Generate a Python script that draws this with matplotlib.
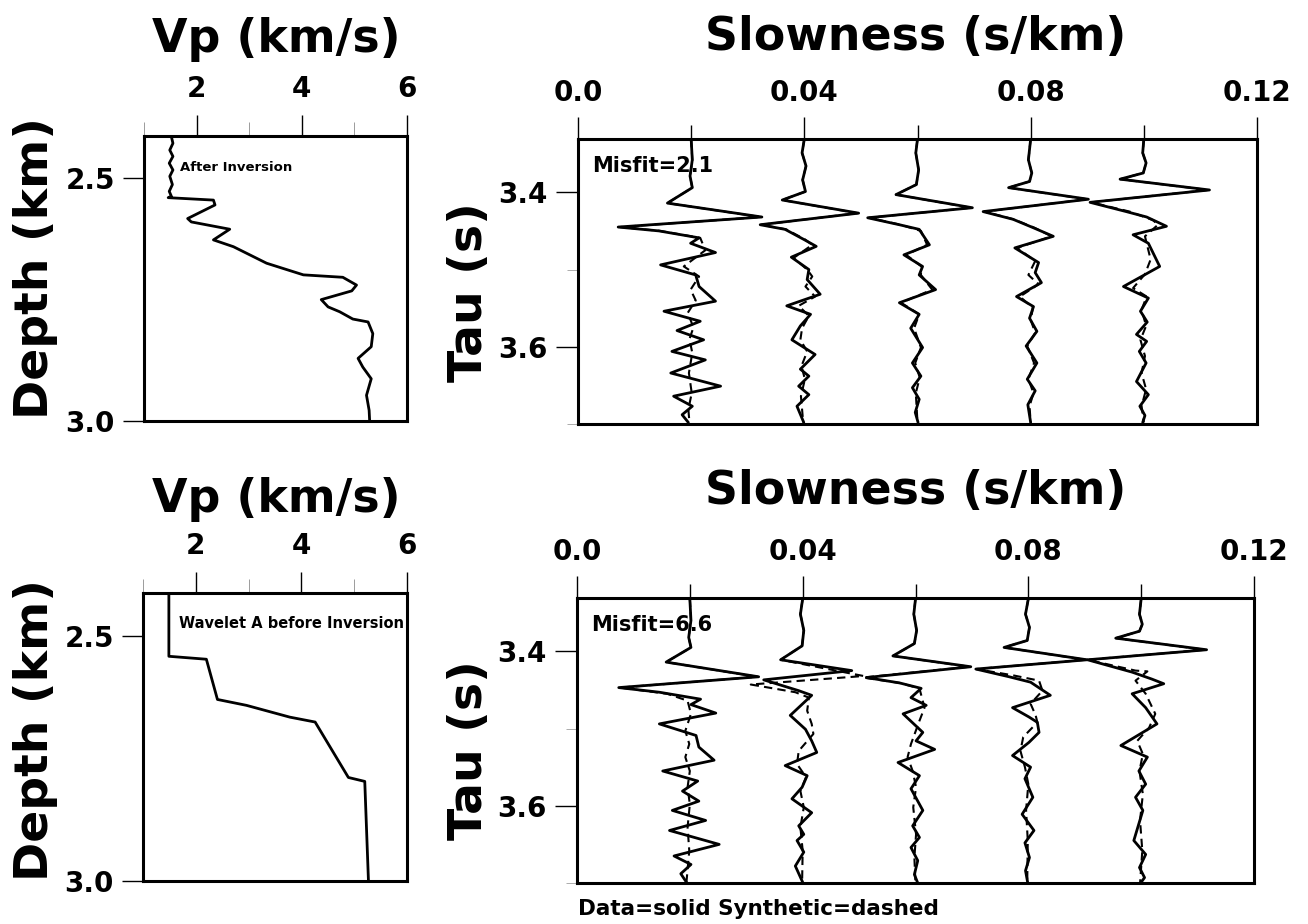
import matplotlib
matplotlib.use("Agg")
import matplotlib.pyplot as plt

W, H = 1308, 924

# ---------------------------------------------------------------------------
# Velocity profiles (Vp in km/s vs depth in km)
# ---------------------------------------------------------------------------
vp_after = [1.52, 1.55, 1.49, 1.55, 1.48, 1.55, 1.49, 1.54, 1.48, 1.52, 1.46,
            2.32, 2.35, 1.83, 1.90, 2.63, 2.32, 2.70, 3.33, 3.65, 4.03, 4.78,
            5.04, 4.95, 4.37, 4.50, 4.72, 4.97, 5.26, 5.35, 5.32, 5.07, 5.16,
            5.32, 5.23, 5.28, 5.29]
depth_after = [2.414, 2.428, 2.442, 2.455, 2.469, 2.483, 2.496, 2.513, 2.527,
               2.537, 2.540, 2.545, 2.555, 2.583, 2.590, 2.605, 2.627, 2.641,
               2.675, 2.686, 2.699, 2.704, 2.720, 2.732, 2.750, 2.765, 2.775,
               2.790, 2.796, 2.820, 2.847, 2.871, 2.889, 2.913, 2.947, 2.978,
               3.0]

vp_before = [1.49, 1.49, 2.20, 2.41, 2.96, 3.78, 4.26, 4.89, 5.20, 5.27]
depth_before = [2.413, 2.542, 2.548, 2.630, 2.642, 2.666, 2.676, 2.789, 2.797,
                3.0]

# ---------------------------------------------------------------------------
# Tau-p traces: slowness of each trace, and (tau [s], offset [1e-3 s/km])
# ---------------------------------------------------------------------------
trace_p = [0.02, 0.04, 0.06, 0.08, 0.10]

top_data = [
    [(3.331, 0), (3.358, 0.2), (3.379, -0.2), (3.394, 0.2), (3.414, -4.2),
     (3.432, 12.5), (3.445, -12.9), (3.450, -5.7), (3.459, 1.4), (3.466, -0.1),
     (3.478, 4.3), (3.494, -5.4), (3.507, 0.8), (3.522, 1.4), (3.541, 4.3),
     (3.554, -4.8), (3.567, 1.6), (3.579, -2.5), (3.591, 2.2), (3.606, -3.4),
     (3.617, 2.5), (3.634, -3.6), (3.651, 5.2), (3.664, -3.1), (3.677, 0.2),
     (3.688, -1.6), (3.698, -0.5)],
    [(3.331, 0), (3.349, -0.4), (3.366, 0.3), (3.384, -0.3), (3.399, 0.2),
     (3.410, -3.9), (3.427, 9.6), (3.442, -7.8), (3.448, -3.4), (3.461, -0.1),
     (3.470, 2.1), (3.484, -2.3), (3.500, 0.8), (3.513, 0.5), (3.532, 2.8),
     (3.547, -3.1), (3.558, 1.1), (3.573, -0.7), (3.591, -2.2), (3.610, 1.9),
     (3.629, -0.7), (3.638, 0.8), (3.651, -1.0), (3.662, 0.8), (3.677, -1.3),
     (3.698, -0.1)],
    [(3.331, 0), (3.349, -0.3), (3.371, 0.2), (3.390, -0.2), (3.403, -3.8),
     (3.420, 9.7), (3.433, -8.8), (3.442, -3.2), (3.448, 0.3), (3.468, 2.1),
     (3.481, -2.4), (3.496, 0.9), (3.507, 0.3), (3.526, 3.2), (3.543, -3.2),
     (3.558, 0.3), (3.576, -1.2), (3.601, 0.9), (3.621, -0.9), (3.638, 0.6),
     (3.653, -0.9), (3.668, 0.3), (3.685, -0.4), (3.698, 0.1)],
    [(3.331, 0), (3.358, -0.4), (3.375, 0.2), (3.386, -0.2), (3.394, -3.9),
     (3.409, 10.2), (3.425, -8.4), (3.435, -3.1), (3.446, 0.5), (3.457, 4.0),
     (3.472, -2.8), (3.491, 1.4), (3.504, 0.8), (3.517, 1.9), (3.535, -2.5),
     (3.548, 0.5), (3.563, -0.2), (3.580, 1.1), (3.599, -0.8), (3.621, 1.1),
     (3.642, -0.6), (3.657, 0.8), (3.675, -0.5), (3.698, 0)],
    [(3.331, 0), (3.349, -0.2), (3.362, 0.4), (3.375, -0.1), (3.383, -4.2),
     (3.397, 11.6), (3.413, -9.5), (3.425, -3.1), (3.432, 0.5), (3.444, 4.0),
     (3.455, -1.9), (3.466, 0.8), (3.496, 2.8), (3.522, -3.6), (3.537, 0.8),
     (3.554, -0.6), (3.568, 0.6), (3.584, -1.3), (3.593, 0.5), (3.606, -0.8),
     (3.621, 0.4), (3.645, -1.3), (3.662, 0.8), (3.677, -0.7), (3.689, 0.2),
     (3.698, -0.2)],
]

top_synth = [
    [(3.331, 0), (3.358, 0.2), (3.379, -0.2), (3.394, 0.2), (3.414, -4.2),
     (3.432, 12.3), (3.445, -12.6), (3.450, -5.5), (3.459, 1.6), (3.475, 2.5),
     (3.496, -1.3), (3.509, 1.4), (3.526, -0.1), (3.540, 0.8), (3.556, -0.6),
     (3.575, 0.4), (3.590, -0.3), (3.608, 0.2), (3.634, -0.4), (3.660, 0.1),
     (3.681, -0.5), (3.698, -0.3)],
    [(3.331, 0), (3.349, -0.4), (3.366, 0.3), (3.384, -0.3), (3.399, 0.2),
     (3.410, -3.9), (3.427, 9.4), (3.442, -7.6), (3.448, -3.2), (3.461, 0.1),
     (3.468, 1.4), (3.485, -1.9), (3.500, 0.5), (3.509, 1.4), (3.522, 0.2),
     (3.535, 1.9), (3.547, -1.0), (3.560, 0.8), (3.576, -0.4), (3.591, -0.7),
     (3.606, 0.5), (3.625, -0.5), (3.642, 0.1), (3.664, -0.6), (3.698, -0.2)],
    [(3.331, 0), (3.349, -0.3), (3.371, 0.2), (3.390, -0.2), (3.403, -3.8),
     (3.420, 9.5), (3.433, -8.6), (3.442, -3.0), (3.450, 0.6), (3.468, 1.7),
     (3.481, -2.0), (3.496, 0.7), (3.507, 0.6), (3.526, 2.6), (3.543, -2.9),
     (3.558, 0.3), (3.576, -0.6), (3.601, 0.6), (3.621, -0.4), (3.640, 0.4),
     (3.660, -0.3), (3.698, 0)],
    [(3.331, 0), (3.358, -0.4), (3.375, 0.2), (3.386, -0.2), (3.394, -3.9),
     (3.409, 10.0), (3.425, -8.2), (3.435, -3.0), (3.446, 0.7), (3.457, 3.7),
     (3.472, -2.4), (3.489, 0.8), (3.507, -0.4), (3.519, 1.4), (3.535, -1.9),
     (3.550, 0.4), (3.565, 0), (3.582, 0.8), (3.599, -0.6), (3.621, 0.6),
     (3.642, -0.4), (3.660, 0.5), (3.677, -0.2), (3.698, 0)],
    [(3.331, 0), (3.349, -0.2), (3.362, 0.4), (3.375, -0.1), (3.383, -4.2),
     (3.397, 11.4), (3.413, -9.3), (3.425, -2.5), (3.436, 1.6), (3.442, 2.5),
     (3.457, 0.2), (3.487, 1.2), (3.506, 0.2), (3.524, -1.9), (3.535, 0.5),
     (3.552, -0.4), (3.573, 0.4), (3.591, -0.6), (3.612, 0.2), (3.634, -0.4),
     (3.655, 0.4), (3.677, -0.4), (3.698, 0)],
]

bottom_data = [
    [(3.332, 0), (3.360, 0.2), (3.382, -0.2), (3.395, 0.2), (3.414, -4.2),
     (3.433, 12.2), (3.447, -12.6), (3.453, -5.4), (3.462, 1.9), (3.469, 0.2),
     (3.480, 4.6), (3.494, -5.4), (3.509, 1.1), (3.524, 1.6), (3.541, 4.3),
     (3.555, -4.8), (3.568, 1.4), (3.581, -1.3), (3.594, 1.6), (3.606, -3.1),
     (3.619, 2.8), (3.632, -3.6), (3.650, 5.2), (3.665, -2.8), (3.676, 0.2),
     (3.688, -1.6), (3.699, -0.6)],
    [(3.332, 0), (3.352, -0.4), (3.373, 0.2), (3.393, -0.1), (3.411, -3.9),
     (3.425, 8.7), (3.437, -6.9), (3.451, -0.7), (3.457, 1.6), (3.483, -2.2),
     (3.501, 0.5), (3.516, 1.6), (3.531, 2.5), (3.548, -3.1), (3.561, 0.8),
     (3.576, -0.1), (3.591, -1.9), (3.609, 1.6), (3.626, -0.7), (3.637, 0.2),
     (3.645, -1.0), (3.660, 0.2), (3.678, -1.3), (3.699, 0)],
    [(3.332, 0), (3.352, -0.3), (3.373, 0.2), (3.390, -0.2), (3.406, -4.0),
     (3.420, 9.8), (3.434, -8.7), (3.441, -2.8), (3.448, 1.0), (3.460, -0.8),
     (3.470, 1.9), (3.481, -2.2), (3.505, 1.3), (3.516, 0.1), (3.527, 3.4),
     (3.544, -3.1), (3.561, 0.7), (3.578, -0.8), (3.606, 1.3), (3.626, -0.5),
     (3.641, 0.7), (3.654, -0.8), (3.671, 0.4), (3.689, -0.2), (3.700, 0.4)],
    [(3.332, 0), (3.352, -0.5), (3.369, 0.2), (3.386, -0.2), (3.395, -4.3),
     (3.411, 10.4), (3.423, -9.3), (3.433, -3.4), (3.440, 0.4), (3.457, 3.9),
     (3.473, -2.8), (3.485, 0.1), (3.492, 1.6), (3.505, 1.9), (3.518, 0.1),
     (3.535, -2.8), (3.550, 0.4), (3.565, -0.6), (3.589, 0.8), (3.611, -1.1),
     (3.632, 1.0), (3.648, -0.6), (3.667, 0.2), (3.684, -0.5), (3.700, -0.1)],
    [(3.332, 0), (3.352, -0.3), (3.365, 0.2), (3.374, -0.3), (3.383, -4.5),
     (3.398, 11.6), (3.411, -9.5), (3.427, -1.6), (3.436, 1.9), (3.442, 4.0),
     (3.455, -1.6), (3.473, 0.8), (3.494, 2.8), (3.522, -3.6), (3.537, 1.1),
     (3.555, -0.4), (3.572, 0.8), (3.589, -1.0), (3.606, 0.3), (3.645, -1.3),
     (3.663, 0.8), (3.680, -0.3), (3.693, 0.6), (3.700, -0.1)],
]

bottom_synth = [
    [(3.332, 0), (3.360, 0.2), (3.382, -0.2), (3.395, 0.2), (3.414, -4.2),
     (3.433, 12.0), (3.447, -12.4), (3.455, -4.0), (3.464, -0.4), (3.481, 0.2),
     (3.503, -0.8), (3.520, -0.1), (3.537, -0.8), (3.555, 0), (3.576, -0.4),
     (3.598, 0), (3.628, -0.4), (3.658, -0.1), (3.699, -0.6)],
    [(3.332, 0), (3.352, -0.4), (3.373, 0.2), (3.393, -0.1), (3.411, -3.9),
     (3.432, 10.8), (3.443, -9.2), (3.453, -1.3), (3.460, 1.1), (3.477, 0.8),
     (3.494, 1.6), (3.507, 1.9), (3.529, -0.7), (3.546, -1.0), (3.563, 0.6),
     (3.581, -0.4), (3.602, 0.2), (3.628, -0.4), (3.658, 0), (3.699, -0.1)],
    [(3.332, 0), (3.352, -0.3), (3.373, 0.2), (3.390, -0.2), (3.406, -4.0),
     (3.420, 9.6), (3.434, -9.3), (3.441, -2.8), (3.448, 0.7), (3.473, 1.6),
     (3.490, 0.7), (3.520, -0.8), (3.537, -1.4), (3.555, -0.5), (3.576, 0.1),
     (3.602, -0.4), (3.637, 0.1), (3.667, -0.2), (3.701, 0)],
    [(3.332, 0), (3.352, -0.5), (3.369, 0.2), (3.386, -0.2), (3.395, -4.3),
     (3.411, 10.2), (3.423, -9.3), (3.431, -2.8), (3.438, 1.9), (3.451, 2.5),
     (3.468, 0.4), (3.483, 1.3), (3.492, 1.6), (3.511, -0.9), (3.529, -1.4),
     (3.550, -0.6), (3.572, 0), (3.606, -0.4), (3.645, -0.1), (3.701, -0.2)],
    [(3.332, 0), (3.352, -0.3), (3.365, 0.2), (3.374, -0.3), (3.383, -4.5),
     (3.398, 11.4), (3.411, -9.5), (3.425, -1.0), (3.426, 1.1), (3.438, -1.0),
     (3.455, 0.8), (3.481, 2.5), (3.499, 1.4), (3.516, -0.7), (3.533, 0.3),
     (3.555, -0.3), (3.585, 0.3), (3.619, -0.2), (3.658, 0.2), (3.701, -0.2)],
]

misfits = ["2.1", "6.6"]
profile_notes = ["After Inversion", "Wavelet A before Inversion"]

plt.rcParams["font.family"] = ["DejaVu Sans"]
plt.rcParams["font.weight"] = "bold"

fig = plt.figure(figsize=(W / 100, H / 100), dpi=100)


def px_rect(x0, y0, x1, y1):
    return [x0 / W, 1 - y1 / H, (x1 - x0) / W, (y1 - y0) / H]


def ftext(x, y, s, **kw):
    fig.text(x / W, 1 - y / H, s, **kw)


def frame(ax):
    for sp in ax.spines.values():
        sp.set_linewidth(2.2)
    ax.xaxis.tick_top()
    ax.tick_params(axis="both", which="major", labelsize=20, width=1.0,
                   length=15, direction="out")
    ax.tick_params(axis="x", which="major", pad=9)
    ax.tick_params(axis="y", which="major", pad=6)
    ax.tick_params(axis="both", which="minor", width=0.6, length=10,
                   color="0.55")
    for lab in ax.get_xticklabels() + ax.get_yticklabels():
        lab.set_fontweight("bold")


def velocity_panel(rect, vp, depth, note, note_y, note_size):
    ax = fig.add_axes(px_rect(*rect))
    ax.plot(vp, depth, color="black", lw=2.0, solid_joinstyle="round",
            solid_capstyle="round")
    ax.set_xlim(1.0, 6.0)
    ax.set_ylim(3.0, 2.413)
    ax.set_xticks([2, 4, 6])
    ax.set_xticks([1, 3, 5], minor=True)
    ax.set_yticks([2.5, 3.0])
    ax.set_yticklabels(["2.5", "3.0"])
    frame(ax)
    ax.text(1.68, note_y, note, fontsize=note_size, fontweight="bold",
            va="center", ha="left")
    return ax


def trace_panel(rect, data, synth, misfit):
    ax = fig.add_axes(px_rect(*rect))
    for p, tr in zip(trace_p, synth):
        ax.plot([p + a * 1e-3 for _, a in tr], [t for t, _ in tr],
                color="black", lw=1.5, ls=(0, (4, 2.5)))
    for p, tr in zip(trace_p, data):
        ax.plot([p + a * 1e-3 for _, a in tr], [t for t, _ in tr],
                color="black", lw=2.0, solid_joinstyle="round",
                solid_capstyle="round")
    ax.set_xlim(0.0, 0.12)
    ax.set_ylim(3.70, 3.331)
    ax.set_xticks([0.0, 0.04, 0.08, 0.12])
    ax.set_xticklabels(["0.0", "0.04", "0.08", "0.12"])
    ax.set_xticks([0.02, 0.06, 0.10], minor=True)
    ax.set_yticks([3.4, 3.6])
    ax.set_yticklabels(["3.4", "3.6"])
    ax.set_yticks([3.5, 3.7], minor=True)
    frame(ax)
    ax.tick_params(axis="x", which="major", length=16, pad=7)
    ax.tick_params(axis="x", which="minor", length=10, width=1.0,
                   color="black")
    ax.tick_params(axis="y", which="major", length=16)
    ax.tick_params(axis="y", which="minor", length=8, width=0.5)
    ax.text(0.0025, 3.366, "Misfit=" + misfit, fontsize=15,
            fontweight="bold", va="center", ha="left")
    return ax


velocity_panel((144, 136, 407, 421), vp_after, depth_after,
               profile_notes[0], 2.477, 9.5)
velocity_panel((143, 593, 407, 881), vp_before, depth_before,
               profile_notes[1], 2.476, 10.5)
trace_panel((578, 139, 1257, 424), top_data, top_synth, misfits[0])
trace_panel((577, 598, 1254, 883), bottom_data, bottom_synth, misfits[1])

title_kw = dict(fontsize=33, fontweight="bold", ha="center", va="center")
ftext(276, 40, "Vp (km/s)", **title_kw)
ftext(276, 499, "Vp (km/s)", **title_kw)
ftext(916, 37, "Slowness (s/km)", **title_kw)
ftext(916, 492, "Slowness (s/km)", **title_kw)

side_kw = dict(fontsize=34, fontweight="bold", ha="center", va="center",
               rotation=90)
ftext(36, 268, "Depth (km)", **side_kw)
ftext(36, 730, "Depth (km)", **side_kw)
ftext(470, 292, "Tau (s)", **side_kw)
ftext(470, 750, "Tau (s)", **side_kw)

ftext(578, 909, "Data=solid Synthetic=dashed", fontsize=15.5,
      fontweight="bold", ha="left", va="center")

fig.savefig("out.png", dpi=100, facecolor="white")
